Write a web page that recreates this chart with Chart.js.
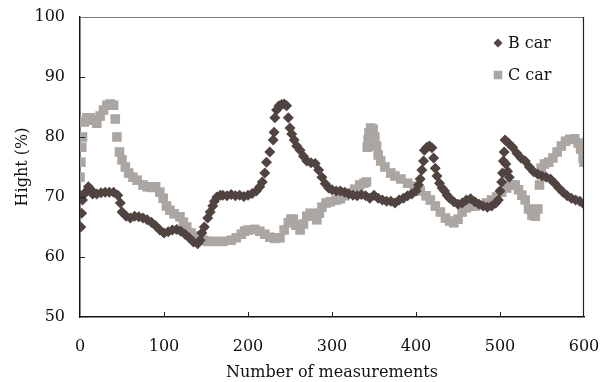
<!DOCTYPE html>
<html>
<head>
<meta charset="utf-8">
<script src="https://cdn.jsdelivr.net/npm/chart.js@4/dist/chart.umd.min.js"></script>
<style>
  html, body { margin: 0; padding: 0; background: #fff; }
  #wrap { width: 612px; height: 382px; position: relative; }
</style>
</head>
<body>
<div id="wrap"><canvas id="c" width="612" height="382"></canvas></div>
<script>
// ---- Data ----
const seriesNames = ["B car", "C car"];

const bX = [0,1,2,3,5,8,10,13,15,20,25,30,35,40,45,48,50,55,60,65,70,75,80,85,90,95,100,105,110,115,120,125,130,135,140,143,145,148,152,155,158,160,163,167,170,175,180,185,190,195,200,205,210,214,217,220,222,226,230,231,232,234,237,240,243,246,248,250,252,255,258,262,266,270,275,280,284,288,292,296,300,305,310,315,320,325,330,335,340,345,350,355,360,365,370,375,380,385,390,395,400,403,405,407,409,410,413,416,419,421,423,425,428,431,434,437,440,445,450,455,460,465,470,475,480,485,490,495,498,500,502,503,504,505,506,507,509,510,511,515,520,525,530,535,540,545,550,555,560,565,570,575,580,585,590,595,600];
const bY = [70.3,65,67.3,69.5,70.5,71,71.7,71.2,70.5,70.5,70.7,70.8,70.8,70.8,70.3,69,67.5,66.8,66.5,66.8,66.7,66.5,66.2,65.8,65.2,64.5,64,64.2,64.5,64.6,64.3,63.8,63.2,62.5,62.2,62.8,64,65,66.5,67.5,68.5,69.3,70,70.3,70.3,70.2,70.4,70.2,70.3,70.1,70.3,70.6,71,71.7,72.5,74,75.8,77.5,79.5,80.8,83.2,84.5,85.2,85.4,85.5,85.2,83.2,81.5,80.5,79.5,78.5,77.8,76.8,76,75.7,75.6,74.5,73.3,72.2,71.5,71.2,71,71,70.8,70.5,70.3,70.2,70.4,70.2,69.8,70.3,69.8,69.5,69.3,69.3,69,69.5,69.8,70.2,70.5,71,72,73,74.5,76,77.8,78.3,78.5,78.2,76.5,74.8,73.5,72.3,71.5,71,70.3,69.8,69.2,68.8,69,69.5,69.7,69.2,68.8,68.5,68.3,68.5,69,69.5,71,72.5,74,76,77.5,79.5,75.5,74.3,79,73.3,78.3,77.3,76.5,76,75,74.2,73.8,73.5,73.3,73,72.3,71.5,70.8,70.2,69.8,69.5,69.3,68.8];

const cX = [0,1,2,3,5,8,12,16,20,24,28,32,36,40,42,44,47,50,54,58,63,68,75,80,85,90,95,99,103,107,112,119,123,127,132,137,142,147,152,160,170,180,186,192,196,200,208,214,220,226,232,238,243,248,251,254,257,262,266,270,274,278,282,285,288,293,298,305,310,315,320,327,333,338,341,342,343,344,346,349,351,353,355,358,363,370,375,382,390,398,405,412,417,423,429,435,440,445,450,455,460,465,470,476,484,490,496,502,508,513,518,522,526,530,534,538,542,545,547,549,553,558,563,568,573,578,583,589,593,596,599,600];
const cY = [73.3,75.8,78.3,80,82.5,83.2,83.2,82.8,82.3,83.5,84.5,85.3,85.5,85.3,83,80,77.5,76.2,75,74,73.3,72.8,72,71.7,71.6,71.7,70.8,69.8,68.5,67.8,67.2,66.7,65.8,65,64,63.5,63,62.8,62.6,62.6,62.6,62.8,63.2,63.8,64.3,64.5,64.6,64.3,63.8,63.3,63.1,63.2,64.5,65.7,66.3,66.3,65.3,64.5,65.5,66.8,67.3,66.8,66.2,67.3,68.3,69,69.2,69.5,69.7,70.2,70.7,71.3,72,72.3,72.5,78.3,79.5,80.7,81.5,81.3,80,78.5,77,76,75,74,73.5,73,72.3,71.8,71,70.2,69.5,68.5,67.5,66.5,66,65.7,66.3,67.5,68.2,68.5,68.5,68.7,69,69.5,70,70.8,71.5,72,72,71.2,70.3,69.5,68,67,66.8,68,72,74.8,75.5,75.8,76.5,77.5,78.5,79.3,79.6,79.7,79,78,76.5,75.8];

const xTicks = [0,100,200,300,400,500,600];
const yTicks = [50,60,70,80,90,100];
const xTitle = "Number of measurements";
const yTitle = "Hight (%)";

// ---- Styling ----
const colB = "#504340";
const colC = "#aca6a2";
const FONT = "'DejaVu Serif', 'Liberation Serif', serif";

function toPts(xs, ys) { return xs.map((x, i) => ({ x: x, y: ys[i] })); }

const frameAndTicks = {
  id: "frameAndTicks",
  afterDraw(chart) {
    const ctx = chart.ctx;
    const a = chart.chartArea;
    const xs = chart.scales.x, ys = chart.scales.y;
    ctx.save();
    ctx.lineWidth = 1.2;
    ctx.strokeStyle = "#7a7a7a";
    ctx.beginPath(); ctx.moveTo(a.left, a.top + 0.5); ctx.lineTo(a.right, a.top + 0.5); ctx.stroke();
    ctx.strokeStyle = "#222";
    ctx.beginPath(); ctx.moveTo(a.right - 0.5, a.top); ctx.lineTo(a.right - 0.5, a.bottom); ctx.stroke();
    ctx.strokeStyle = "#222";
    ctx.lineWidth = 1;
    xTicks.forEach(v => {
      if (v === 0 || v === 600) return;
      const px = Math.round(xs.getPixelForValue(v)) + 0.5;
      ctx.beginPath(); ctx.moveTo(px, a.bottom); ctx.lineTo(px, a.bottom - 5); ctx.stroke();
    });
    yTicks.forEach(v => {
      if (v === 50 || v === 100) return;
      const py = Math.round(ys.getPixelForValue(v)) + 0.5;
      ctx.beginPath(); ctx.moveTo(a.left, py); ctx.lineTo(a.left + 5, py); ctx.stroke();
    });
    const items = [
      { name: seriesNames[0], style: "rectRot", r: 4.5, col: colB, y: 43 },
      { name: seriesNames[1], style: "rect", r: 6, col: colC, y: 75 }
    ];
    ctx.font = "16px " + FONT;
    ctx.textBaseline = "middle";
    ctx.textAlign = "left";
    items.forEach(it => {
      ctx.fillStyle = it.col;
      ctx.strokeStyle = it.col;
      Chart.helpers.drawPoint(ctx, { pointStyle: it.style, radius: it.r, rotation: 0, borderWidth: 0 }, 498, it.y);
      ctx.fillStyle = "#111";
      ctx.fillText(it.name, 508, it.y + 1);
    });
    ctx.restore();
  }
};

new Chart(document.getElementById("c"), {
  type: "scatter",
  data: {
    datasets: [
      { label: seriesNames[0], data: toPts(bX, bY), pointStyle: "rectRot", pointRadius: 5.5,
        backgroundColor: colB, borderColor: colB, borderWidth: 0, pointHoverRadius: 5.5 },
      { label: seriesNames[1], data: toPts(cX, cY), pointStyle: "rect", pointRadius: 6.8,
        backgroundColor: colC, borderColor: colC, borderWidth: 0, pointHoverRadius: 6.8 }
    ]
  },
  options: {
    responsive: false,
    animation: false,
    events: [],
    layout: { padding: { left: 0, top: 17, right: 28, bottom: 0 } },
    plugins: { legend: { display: false }, tooltip: { enabled: false } },
    scales: {
      x: {
        type: "linear", min: 0, max: 600,
        afterBuildTicks: s => { s.ticks = xTicks.map(v => ({ value: v })); },
        afterFit: s => { s.height = 65; s.paddingLeft = 0; s.paddingRight = 0; },
        grid: { display: true, drawOnChartArea: false, drawTicks: false },
        border: { display: true, color: "#111", width: 1.5 },
        ticks: { color: "#111", font: { family: FONT, size: 16 }, padding: 20, maxRotation: 0 },
        title: { display: true, text: xTitle, color: "#111", font: { family: FONT, size: 16 }, padding: { top: 0, bottom: 0 } }
      },
      y: {
        type: "linear", min: 50, max: 100,
        afterBuildTicks: s => { s.ticks = yTicks.map(v => ({ value: v })); },
        afterFit: s => { s.width = 80; s.paddingTop = 0; s.paddingBottom = 0; },
        grid: { display: true, drawOnChartArea: false, drawTicks: false },
        border: { display: true, color: "#111", width: 1.5 },
        ticks: { color: "#111", font: { family: FONT, size: 16 }, padding: 15 },
        title: { display: true, text: yTitle, color: "#111", font: { family: FONT, size: 16 }, padding: { top: 13, bottom: 0 } }
      }
    }
  },
  plugins: [frameAndTicks]
});
</script>
</body>
</html>
